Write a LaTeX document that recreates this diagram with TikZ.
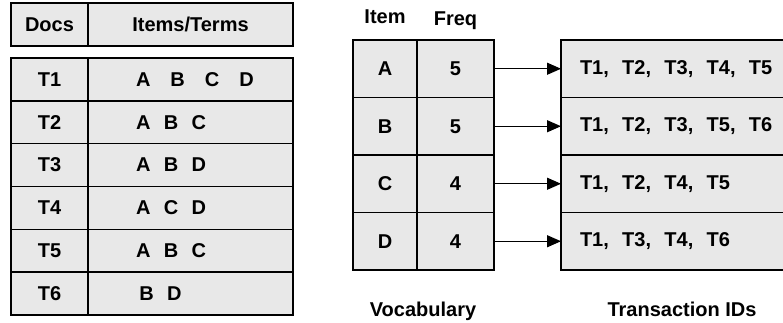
\documentclass[tikz,border=0pt]{standalone}
\usepackage{fontspec}
\setmainfont{Liberation Sans}
\usetikzlibrary{positioning,arrows.meta}

\definecolor{cellgray}{HTML}{E8E8E8}

\tikzset{
  cell/.style={draw=black, fill=cellgray, line width=1.4pt, inner sep=0pt, outer sep=0pt},
  termlist/.style={text width=157pt, align=left, execute at begin node={\hspace*{24pt}}},
  lbl/.style={font=\fontsize{20}{24}\selectfont\bfseries},
  link/.style={line width=1.2pt, -{Triangle[length=14pt,width=12pt]}}
}

\begin{document}
\begin{tikzpicture}[x=1pt, y=1pt, lbl]

\useasboundingbox (0,0) rectangle (783,323);
\clip (0,0) rectangle (783,323);

% documents and their terms
\node[cell, minimum width=77pt, minimum height=43pt] (docs) at (49.5,298.5) {Docs};
\node[cell, minimum width=205pt, minimum height=43pt, right=0pt of docs] (terms) {Items/Terms};

\foreach \d/\t [count=\i] in {T1/{A\ \ \ B\ \ \ C\ \ \ D}, T2/{A\ \ B\ \ C}, T3/{A\ \ B\ \ D},
                               T4/{A\ \ C\ \ D}, T5/{A\ \ B\ \ C}, T6/{\,B\ \ D}} {
  \node[cell, minimum width=77pt, minimum height=42.83pt] (doc\i) at (49.5,{265-42.83*(\i-0.5)}) {\d};
  \node[cell, termlist, minimum width=205pt, minimum height=42.83pt,
        right=0pt of doc\i] (items\i) {\t};
}

% vocabulary with frequencies
\node[anchor=base] (itemhead) at (385,299.5) {Item};
\node[anchor=base] (freqhead) at (455.5,297) {Freq};

\foreach \a/\f [count=\i] in {A/5, B/5, C/4, D/4} {
  \node[cell, minimum width=64pt, minimum height=57.5pt] (item\i) at (385,{283-57.5*(\i-0.5)}) {\a};
  \node[cell, minimum width=77pt, minimum height=57.5pt, right=0pt of item\i] (freq\i) {\f};
}

% transaction id lists
\foreach \l [count=\i] in {{T1,\ \ T2,\ \ T3,\ \ T4,\ \ T5}, {T1,\ \ T2,\ \ T3,\ \ T5,\ \ T6},
                           {T1,\ \ T2,\ \ T4,\ \ T5}, {T1,\ \ T3,\ \ T4,\ \ T6}} {
  \node[cell, minimum width=239pt, minimum height=57.5pt, text width=201pt, align=left,
        anchor=west] (tids\i) at (561,{283-57.5*(\i-0.5)}) {\l};
  \draw[link] (freq\i) -- (tids\i);
}

\node[anchor=base] (vocab) at (423,6) {Vocabulary};
\node[anchor=base] (tidlbl) at (682,6) {Transaction IDs};

\end{tikzpicture}
\end{document}
